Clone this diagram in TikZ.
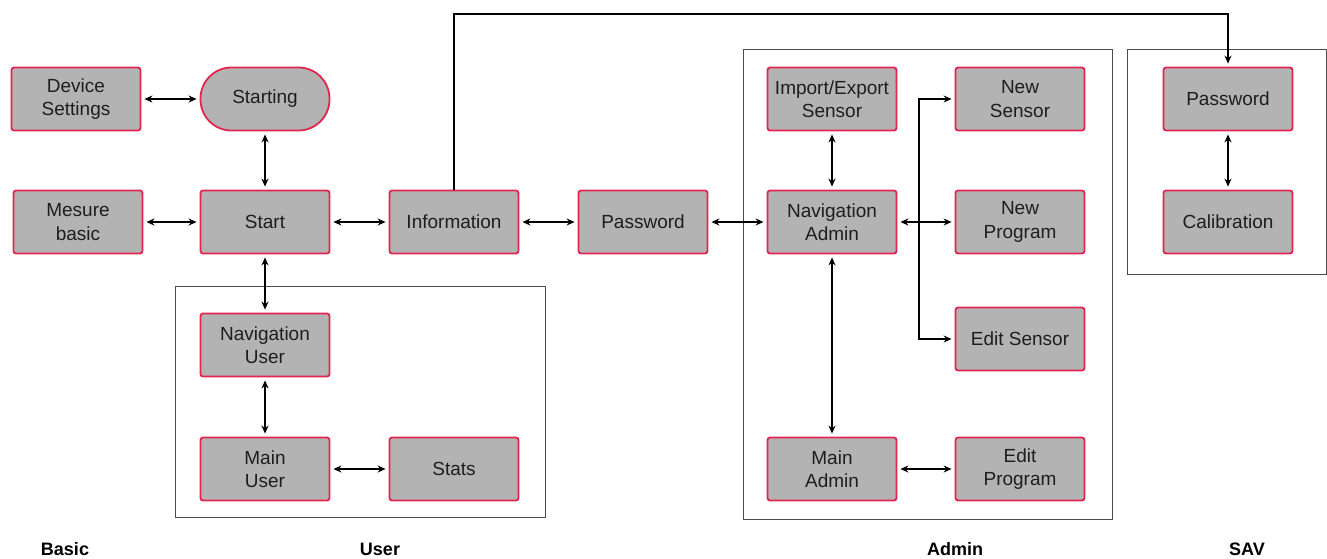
\documentclass[tikz,border=0pt]{standalone}
\usepackage{fontspec}
\setmainfont{Liberation Sans}
\usetikzlibrary{arrows.meta}
\definecolor{boxred}{RGB}{226,38,78}
\definecolor{boxgray}{RGB}{179,179,179}
\definecolor{txt}{RGB}{30,30,30}
\tikzset{
  box/.style={draw=boxred, fill=boxgray, line width=1.8pt, rounded corners=2.5pt,
    minimum width=129pt, minimum height=63pt, inner sep=0pt, align=center,
    font=\fontsize{19}{23.5}\selectfont, text=txt},
  pill/.style={box, rounded corners=31pt},
  tip/.tip={Stealth[length=8pt,width=7pt]},
  both/.style={{tip}-{tip}, line width=1.6pt, shorten >=3pt, shorten <=3pt},
  single/.style={-{tip}, line width=1.6pt, shorten >=3pt},
  group/.style={draw=black!70, line width=1pt},
  grouplabel/.style={font=\fontsize{18}{21}\bfseries\selectfont, text=black}
}
\begin{document}
\begin{tikzpicture}[x=1pt,y=-1pt]
\useasboundingbox (0,0) rectangle (1327,558);
% groups
\draw[group] (175,286) rectangle (545,517);
\draw[group] (743,49) rectangle (1112,519);
\draw[group] (1127,49) rectangle (1326.5,274);
% nodes
\node[box] (devset) at (76,99) {Device\\Settings};
\node[pill] (starting) at (265,99) {Starting};
\node[box] (mesure) at (78,222) {Mesure\\basic};
\node[box] (start) at (265,222) {Start};
\node[box] (info) at (454,222) {Information};
\node[box] (pw) at (643,222) {Password};
\node[box] (navuser) at (265,345) {Navigation\\User};
\node[box] (mainuser) at (265,469) {Main\\User};
\node[box] (stats) at (454,469) {Stats};
\node[box] (impexp) at (832,99) {Import/Export\\Sensor};
\node[box] (navadmin) at (832,222) {Navigation\\Admin};
\node[box] (nsens) at (1020,99) {New\\Sensor};
\node[box] (nprog) at (1020,222) {New\\Program};
\node[box] (esens) at (1020,339) {Edit Sensor};
\node[box] (mainadmin) at (832,469) {Main\\Admin};
\node[box] (eprog) at (1020,469) {Edit\\Program};
\node[box] (pwsav) at (1228,99) {Password};
\node[box] (calib) at (1228,222) {Calibration};
% labels
\node[grouplabel] (lbasic) at (65,549) {Basic};
\node[grouplabel] (luser) at (380,549) {User};
\node[grouplabel] (ladmin) at (955,549) {Admin};
\node[grouplabel] (lsav) at (1247,549) {SAV};
% connectors
\draw[both] (devset) -- (starting);
\draw[both] (starting) -- (start);
\draw[both] (mesure) -- (start);
\draw[both] (start) -- (info);
\draw[both] (info) -- (pw);
\draw[both] (pw) -- (navadmin);
\draw[both] (start) -- (navuser);
\draw[both] (navuser) -- (mainuser);
\draw[both] (mainuser) -- (stats);
\draw[both] (impexp) -- (navadmin);
\draw[both] (navadmin) -- (nprog);
\draw[both] (navadmin) -- (mainadmin);
\draw[both] (mainadmin) -- (eprog);
\draw[both] (pwsav) -- (calib);
\coordinate (bb) at (919,339);
\draw[both] (nsens.west) -| (bb) -- (esens.west);
\coordinate (tl) at (454,14);
\coordinate (tr) at (1228,14);
\draw[single] (info.north) -- (tl) -- (tr) -- (pwsav.north);
\end{tikzpicture}
\end{document}
